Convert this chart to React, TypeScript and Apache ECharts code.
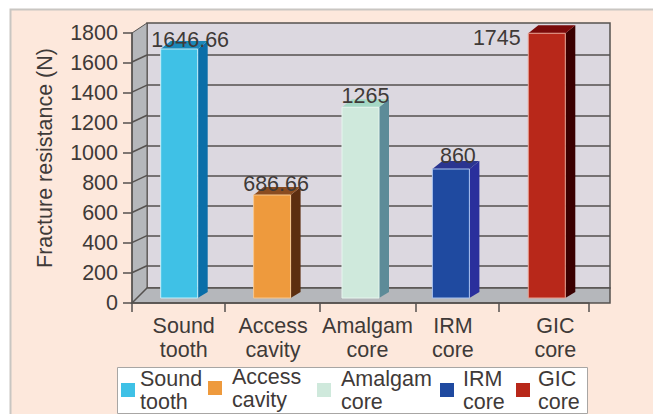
import React, { useEffect, useRef } from "react";
import * as echarts from "echarts";

const categories = ["Sound tooth", "Access cavity", "Amalgam core", "IRM core", "GIC core"];
const values = [1646.66, 686.66, 1265, 860, 1745];
const valueLabels = ["1646.66", "686.66", "1265", "860", "1745"];
const yTicks = { min: 0, max: 1800, interval: 200 };
const tickEdges = [1.01, 2.05, 3.1, 4.01];

const frontColors = ["#3fc1e6", "#ee9a3d", "#cfe9dc", "#1f4aa0", "#b8281a"];
const sideColors = ["#0a6ea8", "#5c2e10", "#5d8b98", "#2a2f9c", "#3a0000"];
const topColors = ["#1b88b8", "#8a4c20", "#a5d8c5", "#2a3590", "#7a0a0a"];
const edgeColors = ["#c4eefa", "#f8c890", "#e6f5ee", "#a9c2f0", "#e8a090"];

const barNudge = [1.5, 3, 0, -1, 3.5];
const barRise = [7, 5, 6, 5, 8];
const labelDx = [11, 4, 5, 7, -50];
const labelDy = [-9, -11, -11, -13, 5];
const catShift = [6, 4, 7, 1, 12];
const legendLeft = [121, 208, 317, 440, 516];
const legendTop = [367, 365, 367, 367, 367];
const legendPad = [0, 5, 5, 4, 3];

const FONT = "Liberation Sans";
const FS = 21.5;
const TEXT = "#3f3a38";
const LINE = "#55514f";
const BAR_W = 37;
const DEPTH = 10;
const TOP_H = 8;

const makeRender = (i: number) => (params: any, api: any) => {
  const cx = api.coord([api.value(0), 0])[0] + barNudge[i];
  const y0 = api.coord([api.value(0), 0])[1] - 5;
  const yt = api.coord([api.value(0), api.value(1)])[1] - barRise[i];
  const l = cx - BAR_W / 2;
  const r = cx + BAR_W / 2;
  const poly = (points: number[][], fill: string, stroke?: string) => ({
    type: "polygon",
    shape: { points },
    style: { fill, stroke: stroke || fill, lineWidth: stroke ? 1 : 0 },
  });
  return {
    type: "group",
    children: [
      poly([[r, yt], [r + DEPTH, yt - TOP_H], [r + DEPTH, y0 - 6], [r, y0]], sideColors[i]),
      poly([[l, yt], [l + DEPTH, yt - TOP_H], [r + DEPTH, yt - TOP_H], [r, yt]], topColors[i]),
      poly([[l, yt], [r, yt], [r, y0], [l, y0]], frontColors[i], edgeColors[i]),
      {
        type: "text",
        z2: 10,
        style: {
          text: valueLabels[i],
          x: cx + labelDx[i],
          y: yt + labelDy[i],
          align: "center",
          verticalAlign: "middle",
          font: `${FS}px "${FONT}"`,
          fill: TEXT,
        },
      },
    ],
  };
};

export default function App() {
  const ref = useRef<HTMLDivElement>(null);
  useEffect(() => {
    const chart = echarts.init(ref.current!, null, { renderer: "svg" });
    const rich: Record<string, any> = {};
    catShift.forEach((s, i) => {
      rich["c" + i] = {
        fontFamily: FONT,
        fontSize: FS,
        lineHeight: 24,
        color: TEXT,
        padding: [0, 0, 0, s * 2],
      };
    });
    chart.setOption({
      animation: false,
      backgroundColor: "#ffffff",
      textStyle: { fontFamily: FONT },
      graphic: [
        { type: "rect", z: -5, shape: { x: 10.5, y: 9.5, width: 660, height: 420 }, style: { fill: "#fde8dc", stroke: "#c9c6c2", lineWidth: 2 } },
        { type: "polygon", z: -4, shape: { points: [[147, 23], [610, 23], [610, 288], [147, 288]] }, style: { fill: "#dcd8e0", stroke: LINE, lineWidth: 1.5 } },
        { type: "polygon", z: -4, shape: { points: [[132, 33], [147, 23], [147, 288], [132, 303]] }, style: { fill: "#b5b7bb", stroke: LINE, lineWidth: 1 } },
        { type: "polygon", z: -4, shape: { points: [[132, 303], [147, 288], [610, 288], [610, 303]] }, style: { fill: "#b5b7bb", stroke: LINE, lineWidth: 1.5 } },
        { type: "rect", z: -4, shape: { x: 117.5, y: 367.5, width: 470, height: 46 }, style: { fill: "#ffffff", stroke: "#a8a6a4", lineWidth: 1 } },
        ...[1600, 1400, 1200, 1000, 800, 600, 400, 200].map((v, k) => ({
          type: "line",
          z: -3,
          shape: { x1: 132, y1: 62 + k * 30.1, x2: 147, y2: 55 + k * 30.1 },
          style: { stroke: LINE, lineWidth: 1.5 },
        })),
      ],
      grid: [
        { left: 132, right: 64, top: 33, bottom: 111 },
        { left: 147, right: 43, top: 25, bottom: 118 },
      ],
      xAxis: [
        {
          type: "category",
          gridIndex: 0,
          data: categories,
          axisLine: { show: false },
          axisTick: { show: false },
          axisLabel: {
            margin: 11,
            interval: 0,
            formatter: (name: string) => {
              const i = categories.indexOf(name);
              return name.split(" ").map((p) => `{c${i}|${p}}`).join("\n");
            },
            rich,
          },
        },
        {
          type: "value",
          gridIndex: 0,
          position: "bottom",
          min: 0,
          max: 5,
          axisLine: { show: true, lineStyle: { color: LINE, width: 1.5 } },
          axisTick: { show: true, length: 9, customValues: [0, ...tickEdges, 5], lineStyle: { color: LINE, width: 1.5 } },
          axisLabel: { show: false },
          splitLine: { show: false },
        },
        {
          type: "value",
          gridIndex: 1,
          min: 0,
          max: 5,
          show: false,
          splitLine: { show: false },
        },
      ],
      yAxis: [
        {
          type: "value",
          gridIndex: 0,
          ...yTicks,
          name: "Fracture resistance (N)",
          nameLocation: "middle",
          nameGap: 76,
          nameTextStyle: { fontFamily: FONT, fontSize: FS, color: TEXT, padding: [0, 0, 0, 20] },
          axisLine: { show: true, lineStyle: { color: LINE, width: 1.5 } },
          axisTick: { show: true, length: 9, lineStyle: { color: LINE, width: 1.5 } },
          axisLabel: { margin: 14, fontFamily: FONT, fontSize: FS, color: TEXT, formatter: (v: number) => String(v) },
          splitLine: { show: false },
        },
        {
          type: "value",
          gridIndex: 1,
          ...yTicks,
          axisLine: { show: false },
          axisTick: { show: false },
          axisLabel: { show: false },
          splitLine: { show: true, showMinLine: false, showMaxLine: false, lineStyle: { color: LINE, width: 1.5 } },
        },
      ],
      legend: categories.map((name, i) => ({
        data: [name],
        left: legendLeft[i],
        top: legendTop[i],
        padding: 0,
        itemWidth: 14,
        itemHeight: 14,
        icon: "rect",
        formatter: (n: string) => n.replace(" ", "\n"),
        textStyle: { fontFamily: FONT, fontSize: FS, lineHeight: 23, color: TEXT, padding: [0, 0, 0, legendPad[i]] },
      })),
      series: categories.map((name, i) => ({
        type: "custom",
        name,
        xAxisIndex: 0,
        yAxisIndex: 0,
        itemStyle: { color: frontColors[i] },
        encode: { x: 0, y: 1 },
        data: [[name, values[i]]],
        clip: false,
        renderItem: (p: any, api: any) => makeRender(i)(p, api),
      })),
    });
    return () => chart.dispose();
  }, []);
  return <div ref={ref} style={{ position: "fixed", left: 0, top: 0, width: 653, height: 414 }} />;
}
